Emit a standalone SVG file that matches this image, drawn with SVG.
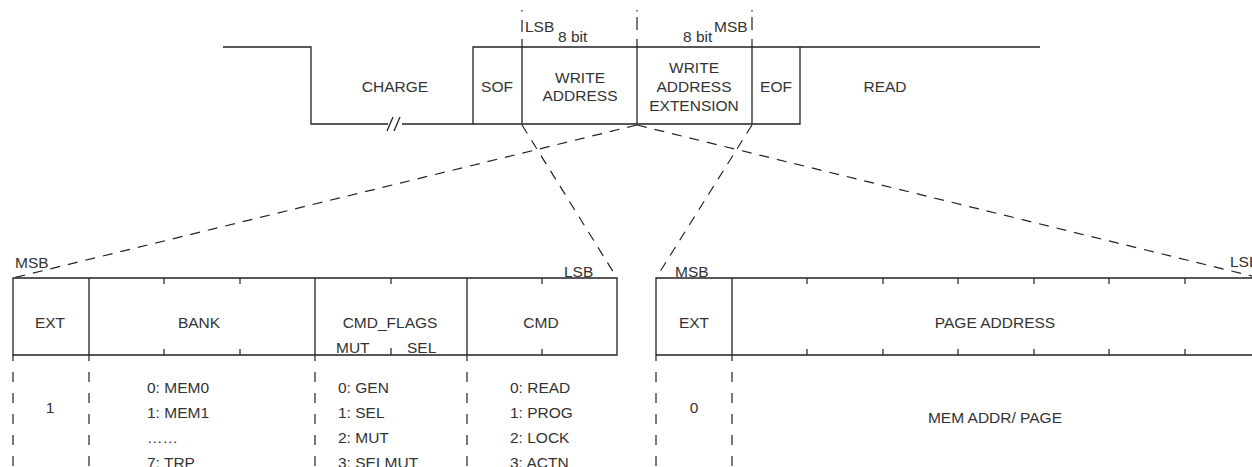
<svg xmlns="http://www.w3.org/2000/svg" width="1252" height="467" viewBox="0 0 1252 467">
<style>
.ln{stroke:#222;stroke-width:1.3;fill:none}
.dsh{stroke:#222;stroke-width:1.2;fill:none;stroke-dasharray:10 8}
.vd{stroke:#222;stroke-width:1.2;fill:none;stroke-dasharray:10 11;stroke-dashoffset:4}
.tk{stroke:#222;stroke-width:1.2;fill:none}
text{font-family:"Liberation Sans",Arial,sans-serif;font-size:15.5px;fill:#333}
.c{text-anchor:middle}
</style>
<rect width="1252" height="467" fill="#fff"/>
<g id="waveform">
<path class="ln" d="M223 47H311V124H388M402 124H473V47H1040M387 131L393 117M394 131L400 117"/>
<path class="ln" d="M473 124H800V47"/>
<text class="c" x="395" y="92">CHARGE</text>
</g>
<g id="sof"><path class="ln" d="M522 47V124"/><text class="c" x="497" y="92">SOF</text></g>
<g id="write-address"><text class="c" x="580" y="83">WRITE</text><text class="c" x="580" y="101">ADDRESS</text>
<text x="525" y="32">LSB</text><text x="558" y="42">8 bit</text></g>
<g id="write-address-extension"><path class="ln" d="M637 47V124"/><text class="c" x="694" y="73">WRITE</text><text class="c" x="694" y="92">ADDRESS</text><text class="c" x="694" y="111">EXTENSION</text>
<text x="683" y="42">8 bit</text><text x="714" y="32">MSB</text></g>
<g id="eof"><path class="ln" d="M752 47V124"/><text class="c" x="776" y="92">EOF</text></g>
<g id="read"><text class="c" x="885" y="92">READ</text></g>
<g id="markers"><path class="tk" d="M522 10v1.5M522 20v12M522 39v8M637 10v1.5M637 17v13M637 39v8M752 10v1.5M752 17v13M752 39v8"/></g>
<g id="connectors">
<path class="dsh" d="M522 125L617 278"/>
<path class="dsh" d="M637 125L13 278"/>
<path class="dsh" d="M637 125L1260 278"/>
<path class="dsh" d="M752 125L656 278"/>
</g>
<g id="left-table">
<path class="ln" d="M13 278H617V355H13ZM89 278V355M315 278V355M467 278V355"/>
<path class="tk" d="M164 278v6M240 278v6M391 278v6M542 278v6M164 355v-6M240 355v-6M391 355v-7M542 355v-6"/>
<path class="vd" d="M13 355V467M89 355V467M315 355V467M467 355V467"/>
<text x="15" y="268">MSB</text><text x="564" y="277">LSB</text>
<text class="c" x="50" y="328">EXT</text>
<text class="c" x="199" y="328">BANK</text>
<text class="c" x="390" y="328">CMD_FLAGS</text>
<text x="336" y="353">MUT</text><text x="407" y="353">SEL</text>
<text class="c" x="541" y="328">CMD</text>
<text class="c" x="50" y="413">1</text>
<text x="147" y="393">0: MEM0</text><text x="147" y="418">1: MEM1</text><text x="147" y="443">……</text><text x="147" y="468">7: TRP</text>
<text x="338" y="393">0: GEN</text><text x="338" y="418">1: SEL</text><text x="338" y="443">2: MUT</text><text x="338" y="468">3: SELMUT</text>
<text x="510" y="393">0: READ</text><text x="510" y="418">1: PROG</text><text x="510" y="443">2: LOCK</text><text x="510" y="468">3: ACTN</text>
</g>
<g id="right-table">
<path class="ln" d="M1262 278H656V355H1262M732 278V355"/>
<path class="tk" d="M807 278v6M883 278v6M958 278v6M1034 278v6M1109 278v6M1185 278v6M807 355v-6M883 355v-6M958 355v-6M1034 355v-6M1109 355v-6M1185 355v-6"/>
<path class="vd" d="M656 355V467M732 355V467"/>
<text x="675" y="277">MSB</text><text x="1230" y="267">LSB</text>
<text class="c" x="694" y="328">EXT</text>
<text class="c" x="995" y="328">PAGE ADDRESS</text>
<text class="c" x="694" y="413">0</text>
<text class="c" x="995" y="423">MEM ADDR/ PAGE</text>
</g>
</svg>
